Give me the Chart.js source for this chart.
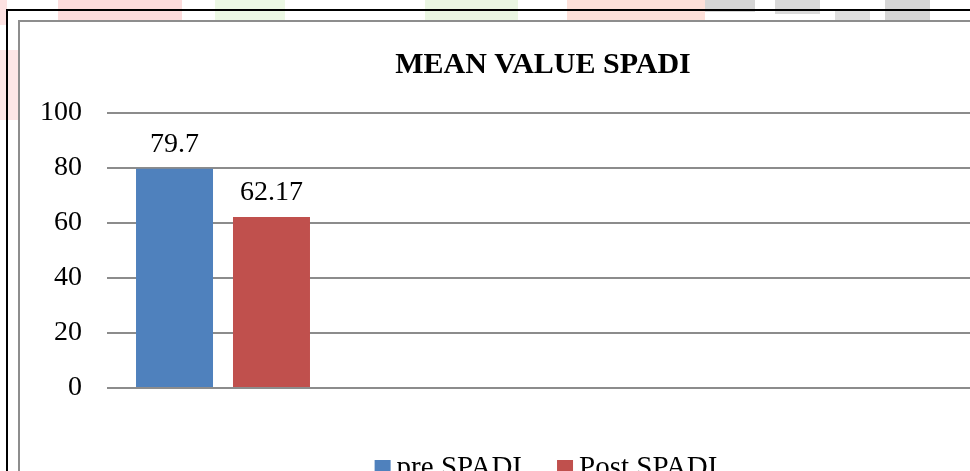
<!DOCTYPE html>
<html>
<head>
    <title>Mean Value SPADI</title>
    <style>
        body {
            margin: 0;
            width: 970px;
            height: 471px;
            overflow: hidden;
            background: #ffffff;
            position: relative;
        }
        .mark {
            position: absolute;
            top: 0;
            height: 20px;
        }
        .frame {
            position: absolute;
            left: 6px;
            top: 9px;
            width: 1100px;
            height: 520px;
            border: 2px solid #000;
        }
        .plotbox {
            position: absolute;
            left: 18px;
            top: 20px;
            width: 1060px;
            height: 500px;
            border: 2px solid #8d8d8d;
            background: #fff;
        }
        #chartWrap {
            position: absolute;
            left: 20px;
            top: 22px;
        }
    </style>
    <script src="https://cdn.jsdelivr.net/npm/chart.js"></script>
</head>
<body>
    <!-- faint watermark bits peeking round the frame -->
    <div class="mark" style="left:0;width:7px;height:25px;background:#fde2e2;"></div>
    <div class="mark" style="left:0;top:50px;width:18px;height:70px;background:#fde6e6;"></div>
    <div class="mark" style="left:58px;width:124px;background:#fcdcdc;"></div>
    <div class="mark" style="left:215px;width:70px;background:#ecf8e4;"></div>
    <div class="mark" style="left:425px;width:93px;background:#eaf6e2;"></div>
    <div class="mark" style="left:567px;width:138px;background:#fde0d9;"></div>
    <div class="mark" style="left:705px;width:50px;height:12px;background:#d6d6d6;"></div>
    <div class="mark" style="left:775px;width:45px;height:14px;background:#d9d9d9;"></div>
    <div class="mark" style="left:835px;top:10px;width:35px;height:10px;background:#dedede;"></div>
    <div class="mark" style="left:885px;width:45px;background:#d6d6d6;"></div>
    <div class="frame"></div>
    <div class="plotbox"></div>
    <div id="chartWrap">
        <canvas id="spadiChart" width="1046" height="480"></canvas>
    </div>
    <script>
        const categories = ['SPADI', '', '', ''];
        const preSpadi = [79.7, null, null, null];
        const postSpadi = [62.17, null, null, null];
        const yTicks = [0, 20, 40, 60, 80, 100];

        const serif = "'Liberation Serif', 'Times New Roman', serif";

        // value labels above each bar (no datalabels plugin offline)
        const barValues = {
            id: 'barValues',
            afterDatasetsDraw(chart) {
                const ctx = chart.ctx;
                ctx.save();
                ctx.font = '28px ' + serif;
                ctx.fillStyle = '#000';
                ctx.textAlign = 'center';
                ctx.textBaseline = 'alphabetic';
                chart.data.datasets.forEach((ds, i) => {
                    chart.getDatasetMeta(i).data.forEach((bar, j) => {
                        const v = ds.data[j];
                        if (v === null || v === undefined) return;
                        ctx.fillText(String(v), bar.x, bar.y - 17);
                    });
                });
                ctx.restore();
            }
        };

        // Excel-style legend: small square hugging its label
        const excelLegend = {
            id: 'excelLegend',
            afterDraw(chart) {
                const ctx = chart.ctx;
                const box = 16, gap = 6, spacing = 35;
                ctx.save();
                ctx.font = '29px ' + serif;
                const items = chart.data.datasets.map(ds => ({
                    text: ds.label,
                    color: ds.backgroundColor,
                    w: box + gap + ctx.measureText(ds.label).width
                }));
                const total = items.reduce((a, it) => a + it.w, 0) + spacing * (items.length - 1);
                let x = chart.width / 2 + 3 - total / 2;
                const boxTop = chart.chartArea.bottom + 72;
                ctx.textBaseline = 'alphabetic';
                ctx.textAlign = 'left';
                items.forEach(it => {
                    ctx.fillStyle = it.color;
                    ctx.fillRect(x, boxTop, box, box);
                    ctx.fillStyle = '#000';
                    ctx.fillText(it.text, x + box + gap, boxTop + 16);
                    x += it.w + spacing;
                });
                ctx.restore();
            }
        };

        new Chart(document.getElementById('spadiChart'), {
            type: 'bar',
            data: {
                labels: categories,
                datasets: [{
                    label: 'pre SPADI',
                    data: preSpadi,
                    backgroundColor: '#4f81bd',
                    borderWidth: 0
                }, {
                    label: 'Post SPADI',
                    data: postSpadi,
                    backgroundColor: '#c0504d',
                    borderWidth: 0
                }]
            },
            options: {
                responsive: false,
                animation: false,
                categoryPercentage: 0.836,
                barPercentage: 0.794,
                layout: {
                    padding: { top: 25, right: 0, bottom: 58, left: 0 }
                },
                scales: {
                    x: {
                        grid: { display: false, drawTicks: false },
                        border: { display: false },
                        ticks: { display: false },
                        afterFit: s => { s.height = 56; }
                    },
                    y: {
                        min: 0,
                        max: 100,
                        afterBuildTicks: s => { s.ticks = yTicks.map(v => ({ value: v })); },
                        grid: { color: '#8c8c8c', lineWidth: 2, drawTicks: false },
                        border: { display: false },
                        ticks: {
                            padding: 25,
                            color: '#000',
                            font: { family: serif, size: 28 }
                        },
                        afterFit: s => { s.width = 87; }
                    },
                    // empty right-hand gutter so the plot ends where Excel's did
                    gutter: {
                        type: 'linear',
                        position: 'right',
                        display: true,
                        grid: { display: false, drawTicks: false },
                        border: { display: false },
                        ticks: { display: false },
                        afterFit: s => { s.width = 31; }
                    }
                },
                plugins: {
                    title: {
                        display: true,
                        text: 'MEAN VALUE SPADI',
                        color: '#000',
                        font: { family: serif, size: 30, weight: 'bold' },
                        padding: { top: 0, bottom: 30 }
                    },
                    legend: { display: false },
                    tooltip: { enabled: false }
                }
            },
            plugins: [barValues, excelLegend]
        });
    </script>
</body>
</html>
